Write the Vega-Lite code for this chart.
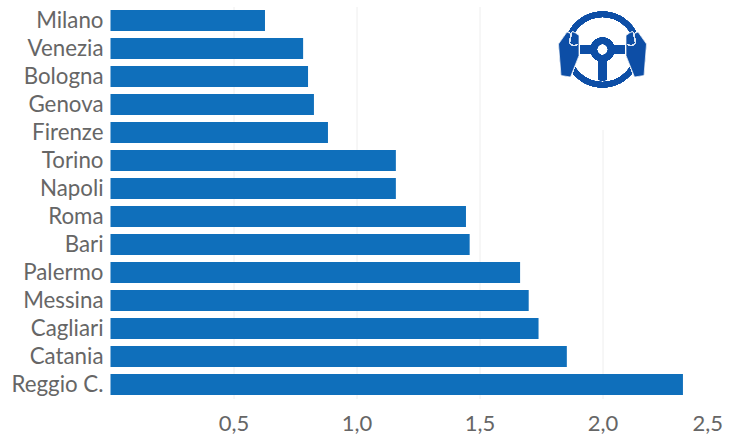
{"$schema":"https://vega.github.io/schema/vega-lite/v6.json","autosize":"none","width":615,"height":392,"padding":{"left":110.5,"top":6.5,"right":3.5,"bottom":37.5},"background":"white","config":{"view":{"stroke":null},"font":"Lato"},"data":{"values":[{"city":"Milano","value":0.628},{"city":"Venezia","value":0.783},{"city":"Bologna","value":0.803},{"city":"Genova","value":0.827},{"city":"Firenze","value":0.884},{"city":"Torino","value":1.16},{"city":"Napoli","value":1.16},{"city":"Roma","value":1.445},{"city":"Bari","value":1.46},{"city":"Palermo","value":1.665},{"city":"Messina","value":1.7},{"city":"Cagliari","value":1.74},{"city":"Catania","value":1.855},{"city":"Reggio C.","value":2.327}]},"encoding":{"y":{"field":"city","type":"nominal","sort":null,"title":null,"scale":{"paddingInner":0.25,"paddingOuter":0.125},"axis":{"domain":false,"ticks":false,"labelFont":"Lato","labelFontSize":22.3,"labelColor":"#666666","labelPadding":7.5}}},"layer":[{"mark":{"type":"bar","color":"#0f6fbb"},"encoding":{"x":{"field":"value","type":"quantitative","title":null,"scale":{"domain":[0,2.5],"nice":false},"axis":{"values":[0.5,1,1.5,2,2.5],"domain":false,"ticks":false,"grid":true,"gridColor":"#eeeeee","gridWidth":1,"gridOpacity":{"expr":"datum.value==2.5?0:1"},"labelFont":"Lato","labelFontSize":22,"labelColor":"#666666","labelPadding":14.5,"labelExpr":"replace(format(datum.value,'.1f'),'.',',')","labelAlign":{"expr":"datum.value==2.5?'right':'center'"},"labelOffset":{"expr":"datum.value==2.5?-3:0"},"labelFlush":false}}}},{"mark":{"type":"point","filled":true,"fill":"white","stroke":null,"opacity":1,"size":10000,"shape":"M-1.3 -1.2H1.2V1.62H-1.3Z"},"encoding":{"x":{"datum":2},"y":{"datum":"Venezia"}}},{"mark":{"type":"point","filled":true,"fill":"#0d4ea6","stroke":null,"opacity":1,"size":10000,"shape":"M-0.76 0.02A0.76 0.76 0 1 1 0.76 0.02A0.76 0.76 0 1 1 -0.76 0.02ZM-0.65 0.02A0.65 0.65 0 1 0 0.65 0.02A0.65 0.65 0 1 0 -0.65 0.02ZM-0.24 0.02A0.24 0.24 0 1 1 0.24 0.02A0.24 0.24 0 1 1 -0.24 0.02ZM-0.11 0.02A0.11 0.11 0 1 0 0.11 0.02A0.11 0.11 0 1 0 -0.11 0.02ZM-0.62 -0.06H-0.2V0.1H-0.62ZM0.2 -0.06H0.62V0.1H0.2ZM-0.09 0.2H0.09V0.62Q0 0.66 -0.09 0.62Z"},"encoding":{"x":{"datum":2},"y":{"datum":"Venezia"}}},{"mark":{"type":"point","filled":true,"fill":"#0d4ea6","stroke":"white","strokeWidth":0.7,"opacity":1,"size":10000,"shape":"M-0.71 -0.33L-0.88 -0.09L-0.83 0.54L-0.64 0.57L-0.47 0.14L-0.47 -0.26L-0.54 -0.31Q-0.6 -0.36 -0.64 -0.3Z M0.71 -0.33L0.88 -0.09L0.83 0.54L0.64 0.57L0.47 0.14L0.47 -0.26L0.54 -0.31Q0.6 -0.36 0.64 -0.3Z"},"encoding":{"x":{"datum":2},"y":{"datum":"Venezia"}}},{"mark":{"type":"point","filled":false,"stroke":"#dfe8f5","strokeWidth":0.7,"opacity":1,"size":10000,"shape":"M-0.62 -0.32L-0.66 -0.12Q-0.6 -0.02 -0.5 -0.08 M0.62 -0.32L0.66 -0.12Q0.6 -0.02 0.5 -0.08"},"encoding":{"x":{"datum":2},"y":{"datum":"Venezia"}}}]}
